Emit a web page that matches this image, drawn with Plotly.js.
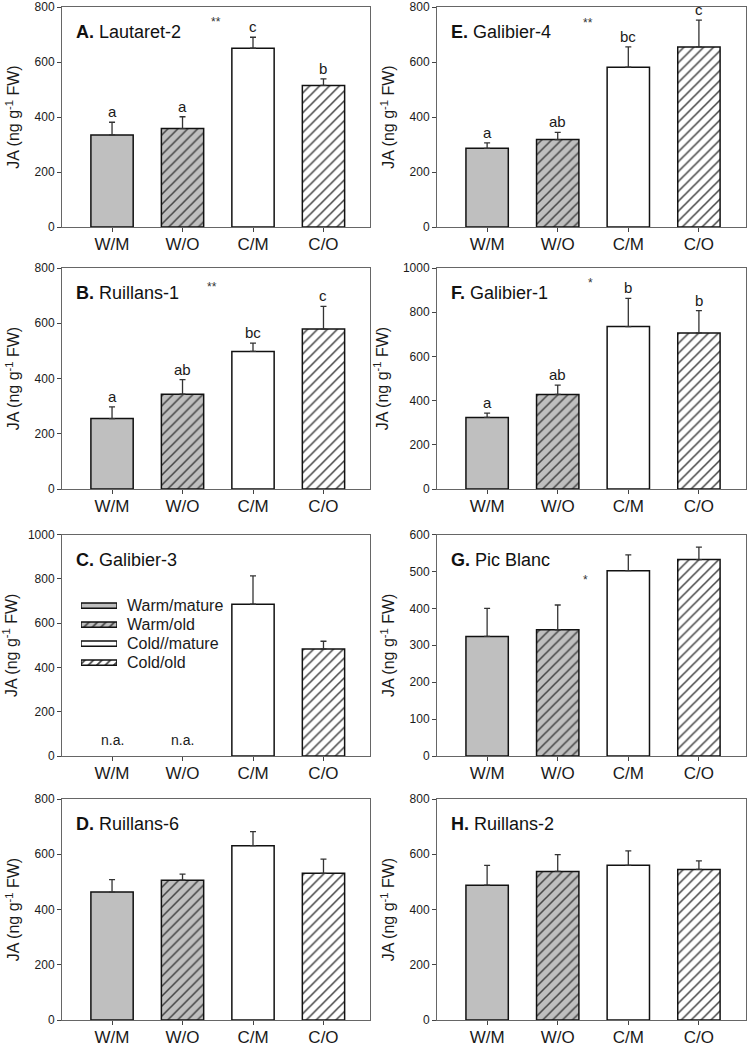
<!DOCTYPE html>
<html>
<head>
<meta charset="utf-8">
<script src="https://cdn.plot.ly/plotly-3.0.1.min.js"></script>
<style>html,body{margin:0;padding:0;background:#fff;}#chart{width:750px;height:1049px;}</style>
</head>
<body>
<div id="chart"></div>
<script>
const categories = ['W/M', 'W/O', 'C/M', 'C/O'];
const legendLabels = ['Warm/mature', 'Warm/old', 'Cold//mature', 'Cold/old'];

const panelNames = ['<b>A.</b> Lautaret-2', '<b>B.</b> Ruillans-1', '<b>C.</b> Galibier-3', '<b>D.</b> Ruillans-6',
                    '<b>E.</b> Galibier-4', '<b>F.</b> Galibier-1', '<b>G.</b> Pic Blanc', '<b>H.</b> Ruillans-2'];

const meanA = [335, 358, 650, 515];
const errA  = [46, 43, 40, 24];
const lettersA = ['a', 'a', 'c', 'b'];

const meanB = [255, 343, 498, 579];
const errB  = [42, 53, 30, 82];
const lettersB = ['a', 'ab', 'bc', 'c'];

const meanC = [null, null, 685, 483];
const errC  = [null, null, 128, 35];
const lettersC = ['n.a.', 'n.a.', '', ''];

const meanD = [463, 506, 631, 531];
const errD  = [45, 22, 51, 51];
const lettersD = ['', '', '', ''];

const meanE = [286, 318, 581, 655];
const errE  = [20, 26, 74, 97];
const lettersE = ['a', 'ab', 'bc', 'c'];

const meanF = [324, 428, 735, 706];
const errF  = [19, 42, 128, 101];
const lettersF = ['a', 'ab', 'b', 'b'];

const meanG = [324, 342, 502, 532];
const errG  = [76, 67, 43, 34];
const lettersG = ['', '', '', ''];

const meanH = [488, 538, 560, 545];
const errH  = [72, 61, 52, 31];
const lettersH = ['', '', '', ''];

const yMax   = [800, 800, 1000, 800, 800, 1000, 600, 800];
const yStep  = [200, 200, 200, 200, 200, 200, 100, 200];
// significance stars: label, category position, value
const starText = ['**', '**', '', '', '**', '*', '*', ''];
const starX    = [1.48, 1.42, 0, 0, 1.43, 1.46, 1.39, 0];
const starY    = [745, 733, 0, 0, 740, 930, 477, 0];

const means = [meanA, meanB, meanC, meanD, meanE, meanF, meanG, meanH];
const errs = [errA, errB, errC, errD, errE, errF, errG, errH];
const letters = [lettersA, lettersB, lettersC, lettersD, lettersE, lettersF, lettersG, lettersH];

const fillColors = ['#bfbfbf', '#bfbfbf', '#ffffff', '#ffffff'];
const patShapes = ['', '/', '', '/'];

const W = 750, H = 1049;
const colX = [[62, 370], [437, 745.5]];
const rowY = [[7, 227], [268, 489], [534.5, 756], [799, 1020]];
const FONT = 'Liberation Sans, Arial, sans-serif';

const traces = [];
const annotations = [];
const layout = {
  width: W, height: H,
  margin: {l: 0, r: 0, t: 0, b: 0},
  paper_bgcolor: '#fff', plot_bgcolor: '#fff',
  showlegend: false,
  font: {family: FONT, color: '#1a1a1a'}
};

const pattern = {shape: patShapes, fillmode: 'overlay', fgcolor: '#000', fgopacity: 1, size: 7, solidity: 0.22};

for (let i = 0; i < 8; i++) {
  const col = Math.floor(i / 4), row = i % 4;
  const n = i === 0 ? '' : String(i + 1);
  const xa = 'x' + n, ya = 'y' + n;
  layout['xaxis' + n] = {
    domain: [colX[col][0] / W, colX[col][1] / W],
    anchor: ya,
    range: [-0.71, 3.66],
    type: 'category',
    showline: true, linecolor: '#666', linewidth: 1, mirror: true,
    ticks: 'outside', ticklen: 4, tickcolor: '#444',
    ticklabelstandoff: -2,
    tickfont: {size: 17, family: FONT, color: '#1a1a1a'},
    showgrid: false, zeroline: false, fixedrange: true
  };
  layout['yaxis' + n] = {
    domain: [1 - rowY[row][1] / H, 1 - rowY[row][0] / H],
    anchor: xa,
    range: [0, yMax[i]],
    dtick: yStep[i], tick0: 0,
    showline: true, linecolor: '#666', linewidth: 1, mirror: true,
    ticks: 'outside', ticklen: 4, tickcolor: '#444',
    tickfont: {size: 12, family: FONT, color: '#1a1a1a'},
    showgrid: false, zeroline: false, fixedrange: true,
    title: {text: 'JA (ng g<sup>-1</sup> FW)', font: {size: 16, family: FONT, color: '#1a1a1a'}, standoff: 10}
  };
  traces.push({
    type: 'bar', x: categories, y: means[i], xaxis: xa, yaxis: ya,
    width: 0.6,
    marker: {color: fillColors, line: {color: '#111', width: 1.5}, pattern: pattern},
    error_y: {type: 'data', symmetric: false, array: errs[i], arrayminus: [0, 0, 0, 0],
              color: '#333', thickness: 1.3, width: 3},
    hoverinfo: 'skip'
  });
  annotations.push({
    xref: xa + ' domain', yref: ya + ' domain', x: 0.04, y: 0.885,
    xanchor: 'left', yanchor: 'middle', showarrow: false,
    text: panelNames[i], font: {size: 18, family: FONT, color: '#111'}
  });
  for (let k = 0; k < 4; k++) {
    const t = letters[i][k];
    if (!t) continue;
    const isNA = means[i][k] === null;
    const top = isNA ? 0 : means[i][k] + errs[i][k];
    annotations.push({
      xref: xa, yref: ya, x: categories[k], y: top,
      xanchor: 'center', yanchor: 'bottom', yshift: isNA ? 6 : 0,
      showarrow: false, text: t,
      font: {size: isNA ? 14 : 15, family: FONT, color: '#1a1a1a'}
    });
  }
  if (starText[i]) {
    annotations.push({
      xref: xa, yref: ya, x: starX[i], y: starY[i],
      xanchor: 'center', yanchor: 'middle', showarrow: false,
      text: starText[i], font: {size: 12, family: FONT, color: '#333'}
    });
  }
}

// legend swatches inside panel C
layout.xaxis9 = {domain: [81 / W, 117 / W], anchor: 'y9', range: [0, 1], visible: false, fixedrange: true};
layout.yaxis9 = {
  domain: [1 - 672.2 / H, 1 - 596.2 / H], anchor: 'x9',
  type: 'category', range: [3.5, -0.5], visible: false, fixedrange: true
};
traces.push({
  type: 'bar', orientation: 'h', y: legendLabels, x: legendLabels.map(() => 1),
  xaxis: 'x9', yaxis: 'y9', width: 0.28,
  marker: {color: fillColors, line: {color: '#111', width: 1.5},
           pattern: {shape: patShapes, fillmode: 'overlay', fgcolor: '#000', fgopacity: 1, size: 6, solidity: 0.3}},
  hoverinfo: 'skip'
});
legendLabels.forEach(lbl => {
  annotations.push({
    xref: 'x9', yref: 'y9', x: 1, y: lbl, xanchor: 'left', yanchor: 'middle', xshift: 8,
    showarrow: false, text: lbl, font: {size: 16, family: FONT, color: '#1a1a1a'}
  });
});

layout.annotations = annotations;
Plotly.newPlot('chart', traces, layout, {staticPlot: true});
</script>
</body>
</html>
